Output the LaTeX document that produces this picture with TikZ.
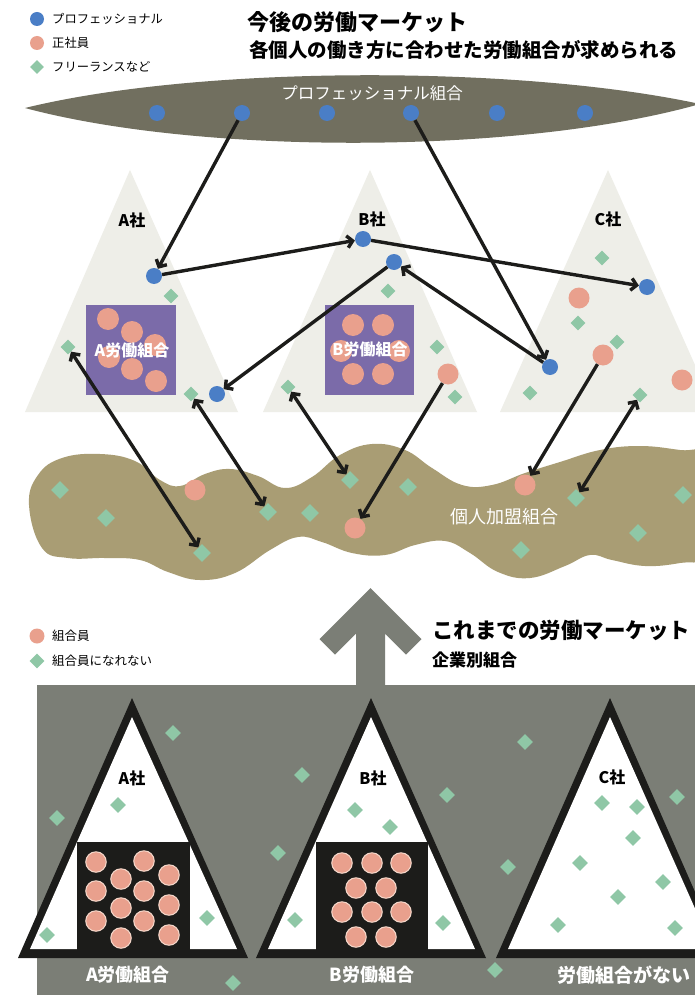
\documentclass[tikz,border=0pt]{standalone}
\usepackage{fontspec}
\setmainfont{Noto Sans CJK JP}
\usetikzlibrary{arrows.meta,shapes.geometric}
\definecolor{cblue}{HTML}{4A7EC6}
\definecolor{cpink}{HTML}{E9A08D}
\definecolor{cpinkl}{HTML}{F6D9CC}
\definecolor{cgreen}{HTML}{8FC7A6}
\definecolor{clens}{HTML}{716F5F}
\definecolor{cband}{HTML}{A99D74}
\definecolor{ctri}{HTML}{EEEEE8}
\definecolor{cpurple}{HTML}{7B6BA9}
\definecolor{cgray}{HTML}{7B7E76}
\definecolor{cblack}{HTML}{1C1C1A}
\newcommand\fsz[1]{\fontsize{#1}{#1}\selectfont}
\begin{document}
\begin{tikzpicture}[x=1pt,y=-1pt,
  bdot/.style={circle, fill=cblue, minimum size=#1, inner sep=0pt},
  bdot/.default=16pt,
  pdot/.style={circle, fill=cpink, minimum size=#1, inner sep=0pt},
  pdot/.default=22pt,
  gdia/.style={diamond, fill=cgreen, minimum width=#1, minimum height=#1, inner sep=0pt},
  gdia/.default=15pt,
  udot/.style={circle, fill=cpink, draw=cpinkl, line width=1pt, minimum size=20.5pt, inner sep=0pt},
  arr/.style={draw=cblack, line width=3.4pt, -{Straight Barb[length=5.5pt,width=12pt]}},
  barr/.style={draw=cblack, line width=3.4pt, {Straight Barb[length=5.5pt,width=12pt]}-{Straight Barb[length=5.5pt,width=12pt]}},
  lgtxt/.style={anchor=west, inner sep=0pt, font=\fsz{12.3}},
  corp/.style={font=\bfseries\fsz{16}, text=black, inner sep=0pt},
  wlab/.style={font=\bfseries\fsz{16}, text=white, inner sep=0pt},
]
\useasboundingbox (0,0) rectangle (695,995);
\begin{scope}
\clip (0,0) rectangle (695,995);
\fill[white] (0,0) rectangle (695,995);

% ---------- top part ----------
% triangles
\fill[ctri] (130,170) -- (25,412) -- (238,412) -- cycle;
\fill[ctri] (370,170) -- (263,412) -- (477,412) -- cycle;
\fill[ctri] (608,170) -- (500,412) -- (716,412) -- cycle;
\fill[cpurple] (86,305) rectangle (176,395);
\fill[cpurple] (325,305) rectangle (414,395);
% lens
\fill[clens] (25,108) .. controls (200,65) and (520,65) .. (700,104) .. controls (520,155) and (200,155) .. (25,108) -- cycle;
% band
\fill[cband] plot[smooth cycle, tension=0.7] coordinates {
 (29,505) (38,475) (62,458) (100,454) (135,461) (160,480) (180,486) (205,474) (230,469) (258,476)
 (285,488) (312,477) (340,455) (372,444) (405,450) (432,468) (462,485) (492,485) (525,473) (560,462)
 (600,450) (640,446) (680,450) (710,455) (712,505) (710,555)
 (680,563) (645,566) (612,560) (590,555) (565,566) (530,578) (498,572) (470,553) (445,541) (415,545)
 (385,555) (352,553) (322,542) (298,537) (270,550) (235,573) (200,580) (168,572) (140,560) (105,558)
 (68,558) (42,548)};

% legend top
\node[bdot=14pt] (lgB) at (37,19) {};
\node[lgtxt] (lgBt) at (52,19) {プロフェッショナル};
\node[pdot=14pt] (lgP) at (37,43) {};
\node[lgtxt] (lgPt) at (52,43) {正社員};
\node[gdia=14pt] (lgG) at (37,67) {};
\node[lgtxt] (lgGt) at (52,67) {フリーランスなど};

% titles
\node[anchor=west, inner sep=0pt, font=\bfseries\fsz{22}] (t1) at (247,22) {今後の労働マーケット};
\node[anchor=west, inner sep=0pt, font=\bfseries\fsz{19.5}] (t2) at (249,50) {各個人の働き方に合わせた労働組合が求められる};

% lens content
\node[text=white, inner sep=0pt, font=\fsz{16.5}] (lensT) at (372,93) {プロフェッショナル組合};
\node[bdot] (L1) at (157,113) {};
\node[bdot] (L2) at (242,113) {};
\node[bdot] (L3) at (327,113) {};
\node[bdot] (L4) at (411,113) {};
\node[bdot] (L5) at (497,113) {};
\node[bdot] (L6) at (585,113) {};

% A company (top)
\node[corp] (Alab) at (132,220) {A社};
\node[pdot] (Ap1) at (108,319) {};
\node[pdot] (Ap2) at (132,332) {};
\node[pdot] (Ap3) at (155,345) {};
\node[pdot] (Ap4) at (109,357) {};
\node[pdot] (Ap5) at (132,369) {};
\node[pdot] (Ap6) at (156,381) {};
\node[wlab] (Aun) at (132,350) {A労働組合};
\node[bdot] (Ab1) at (154,276) {};
\node[bdot] (Ab2) at (217,394) {};
\node[gdia] (Ag1) at (171,296) {};
\node[gdia] (Ag2) at (68,347) {};
\node[gdia] (Ag3) at (191,394) {};

% B company (top)
\node[corp] (Blab) at (372,219) {B社};
\node[pdot] (Bp1) at (353,325) {};
\node[pdot] (Bp2) at (383,325) {};
\node[pdot] (Bp3) at (341,351) {};
\node[pdot] (Bp4) at (399,351) {};
\node[pdot] (Bp5) at (353,374) {};
\node[pdot] (Bp6) at (383,374) {};
\node[wlab] (Bun) at (370,349) {B労働組合};
\node[bdot] (Bb1) at (363,239) {};
\node[bdot] (Bb2) at (394,262) {};
\node[gdia] (Bg1) at (388,291) {};
\node[gdia] (Bg2) at (288,387) {};
\node[gdia] (Bg3) at (437,347) {};
\node[gdia] (Bg4) at (455,397) {};
\node[pdot=21pt] (Bp) at (448,374) {};

% C company (top)
\node[corp] (Clab) at (608,219) {C社};
\node[gdia] (Cg1) at (602,258) {};
\node[bdot] (Cb1) at (647,287) {};
\node[pdot=21pt] (Cp1) at (579,298) {};
\node[gdia] (Cg2) at (578,323) {};
\node[gdia] (Cg3) at (617,342) {};
\node[pdot=21pt] (Cp2) at (603,355) {};
\node[bdot] (Cb2) at (550,367) {};
\node[pdot=21pt] (Cp3) at (682,380) {};
\node[gdia] (Cg4) at (530,393) {};
\node[gdia] (Cg5) at (640,395) {};

% band content
\node[gdia=18pt] (W1) at (60,490) {};
\node[gdia=18pt] (W2) at (106,518) {};
\node[gdia=18pt] (W3) at (202,553) {};
\node[gdia=18pt] (W4) at (268,512) {};
\node[gdia=18pt] (W5) at (310,513) {};
\node[gdia=18pt] (W6) at (350,480) {};
\node[gdia=18pt] (W7) at (408,487) {};
\node[gdia=18pt] (W8) at (576,498) {};
\node[gdia=18pt] (W9) at (683,495) {};
\node[gdia=18pt] (W10) at (638,533) {};
\node[gdia=18pt] (W11) at (521,550) {};
\node[pdot=21pt] (Wp1) at (195,490) {};
\node[pdot=21pt] (Wp2) at (355,528) {};
\node[pdot=21pt] (Wp3) at (525,485) {};
\node[text=white, inner sep=0pt, font=\fsz{18}] (bandT) at (504,517) {個人加盟組合};

% arrows
\draw[arr] (L2) -- (Ab1);
\draw[arr] (Ab1) -- (Bb1);
\draw[arr] (Bb1) -- (Cb1);
\draw[arr] (L4) -- (Cb2);
\draw[arr] (Cb2) -- (Bb2);
\draw[arr] (Bb2) -- (Ab2);
\draw[barr] (Ag2) -- (W3);
\draw[barr] (Ag3) -- (W4);
\draw[barr] (Bg2) -- (W6);
\draw[arr] (Bp) -- (Wp2);
\draw[arr] (Cp2) -- (Wp3);
\draw[barr] (Cg5) -- (W8);

% ---------- bottom part ----------
\fill[cgray] (37,685) rectangle (700,1000);
\fill[cgray] (370.5,588) -- (421.5,639) -- (406,654.5) -- (385,633.5) -- (385,690)
  -- (356,690) -- (356,633.5) -- (335,654.5) -- (319.5,639) -- cycle;

\node[pdot=15pt] (lgP2) at (37,636) {};
\node[lgtxt, font=\fsz{12.5}] (lgP2t) at (52,636) {組合員};
\node[gdia=15pt] (lgG2) at (37,661) {};
\node[lgtxt, font=\fsz{12.5}] (lgG2t) at (52,661) {組合員になれない};
\node[anchor=west, inner sep=0pt, font=\bfseries\fsz{21.5}] (t3) at (432,630) {これまでの労働マーケット};
\node[anchor=west, inner sep=0pt, font=\bfseries\fsz{17}] (t4) at (432,660) {企業別組合};

% triangles bottom
\fill[cblack] (132,698) -- (18,958) -- (248,958) -- cycle;
\fill[white] (132,717) -- (30,949) -- (237,949) -- cycle;
\fill[cblack] (371,698) -- (256,958) -- (486,958) -- cycle;
\fill[white] (371,717) -- (268,949) -- (475,949) -- cycle;
\fill[cblack] (610,698) -- (496,958) -- (724,958) -- cycle;
\fill[white] (610,717) -- (508,949) -- (713,949) -- cycle;
\fill[cblack] (77,842) rectangle (190,950);
\fill[cblack] (316,842) rectangle (428,950);

\node[corp] (Alab2) at (132,778) {A社};
\node[corp] (Blab2) at (373,778) {B社};
\node[corp] (Clab2) at (612,777) {C社};

% A union members
\node[udot] (a1) at (96,862) {};
\node[udot] (a2) at (144,861) {};
\node[udot] (a3) at (121,879) {};
\node[udot] (a4) at (169,875) {};
\node[udot] (a5) at (96,891) {};
\node[udot] (a6) at (144,891) {};
\node[udot] (a7) at (121,908) {};
\node[udot] (a8) at (169,905) {};
\node[udot] (a9) at (96,921) {};
\node[udot] (a10) at (144,921) {};
\node[udot] (a11) at (121,938) {};
\node[udot] (a12) at (169,935) {};
% B union members
\node[udot] (b1) at (342,863) {};
\node[udot] (b2) at (372,863) {};
\node[udot] (b3) at (401,863) {};
\node[udot] (b4) at (356,888) {};
\node[udot] (b5) at (386,888) {};
\node[udot] (b6) at (342,912) {};
\node[udot] (b7) at (372,912) {};
\node[udot] (b8) at (401,912) {};
\node[udot] (b9) at (356,937) {};
\node[udot] (b10) at (386,937) {};

% non-members (bottom)
\foreach \x/\y [count=\i] in {173/733, 302/775, 57/818, 118/805, 278/853, 207/918, 47/935, 295/920, 233/983,
  355/810, 390/827, 447/795, 525/742, 508/867, 443/923, 495/970,
  602/803, 637/807, 633/838, 580/863, 663/882, 618/897, 558/925, 675/928, 677/797}
  \node[gdia=16pt] (d\i) at (\x,\y) {};

\node[text=white, inner sep=0pt, font=\bfseries\fsz{18}] (Aun2) at (128,975) {A労働組合};
\node[text=white, inner sep=0pt, font=\bfseries\fsz{18}] (Bun2) at (372,975) {B労働組合};
\node[anchor=west, text=white, inner sep=0pt, font=\bfseries\fsz{19}] (Cun2) at (557,975) {労働組合がない};
\end{scope}
\end{tikzpicture}
\end{document}
